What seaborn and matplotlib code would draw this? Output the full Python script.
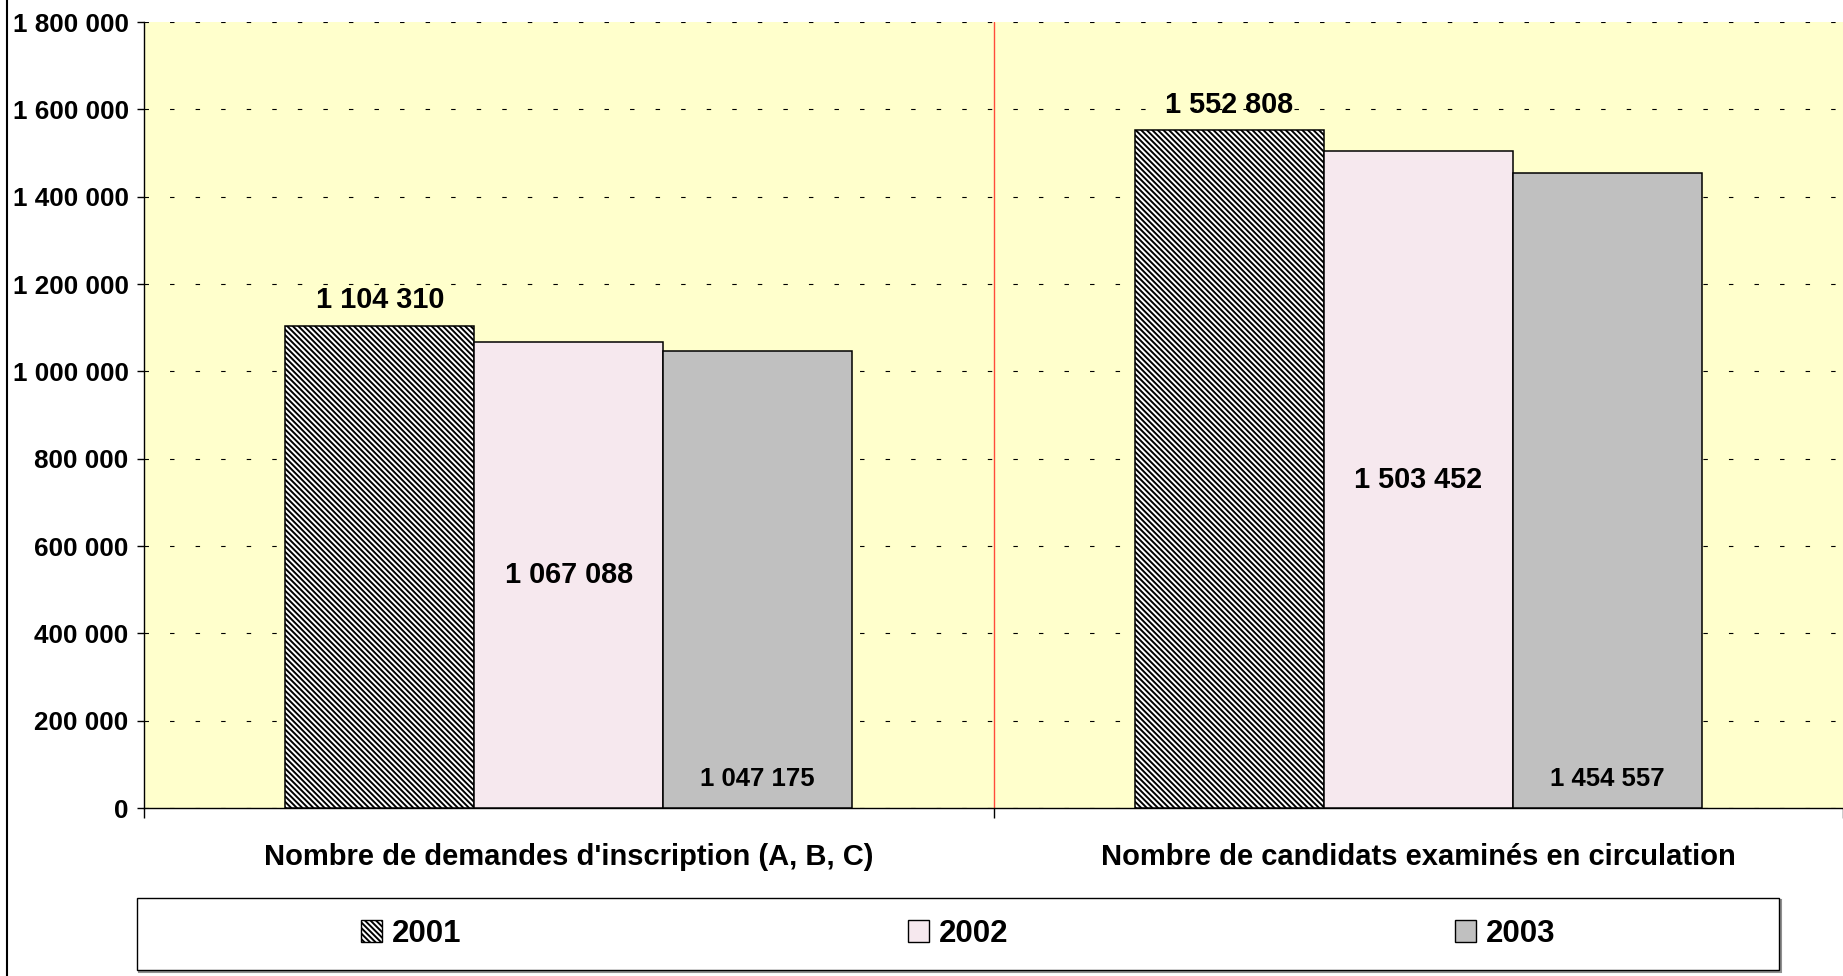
import numpy as np
import pandas as pd
import matplotlib.pyplot as plt
from matplotlib.patches import Rectangle, Patch
from matplotlib.lines import Line2D
import seaborn as sns

# -------------------------------
# Data
# -------------------------------
categories = ["Nombre de demandes d'inscription (A, B, C)",
              "Nombre de candidats examinés en circulation"]
years = ["2001", "2002", "2003"]
values_2001 = [1104310, 1552808]
values_2002 = [1067088, 1503452]
values_2003 = [1047175, 1454557]
y_ticks = [0, 200000, 400000, 600000, 800000, 1000000, 1200000, 1400000, 1600000, 1800000]

df = pd.DataFrame({
    'categorie': categories * 3,
    'annee': np.repeat(years, len(categories)),
    'valeur': values_2001 + values_2002 + values_2003,
})


def fmt(v):
    return f"{v:,.0f}".replace(",", " ")


# -------------------------------
# Style
# -------------------------------
sns.set_style("ticks")
plt.rcParams['font.family'] = ['Liberation Sans', 'DejaVu Sans']
plt.rcParams['font.weight'] = 'bold'
plt.rcParams['text.color'] = 'black'
plt.rcParams['xtick.color'] = 'black'
plt.rcParams['ytick.color'] = 'black'
plt.rcParams['hatch.linewidth'] = 1.4

colors = {'2001': 'white', '2002': '#f6e8ee', '2003': '#c0c0c0'}
hatches = {'2001': '\\\\\\\\\\\\', '2002': '', '2003': ''}

W, H = 1843, 976
fig = plt.figure(figsize=(W / 100, H / 100), dpi=100)
ax = fig.add_axes([144 / W, 1 - 808 / H, (W - 144) / W, (808 - 22) / H])

sns.barplot(data=df, x='categorie', y='valeur', hue='annee', hue_order=years,
            palette=colors, width=0.667, saturation=1, legend=False, ax=ax, zorder=3)

for container, year in zip(ax.containers, years):
    for bar in container:
        bar.set_edgecolor('black')
        bar.set_linewidth(1.1)
        bar.set_hatch(hatches[year])

# value labels
for bar, v in zip(ax.containers[0], values_2001):
    ax.text(bar.get_x() + bar.get_width() / 2, v + 58000, fmt(v),
            ha='center', va='center', fontsize=20.8, fontweight='bold', zorder=5)
for bar, v in zip(ax.containers[1], values_2002):
    ax.text(bar.get_x() + bar.get_width() / 2, v / 2, fmt(v),
            ha='center', va='center', fontsize=20.8, fontweight='bold', zorder=5)
for bar, v in zip(ax.containers[2], values_2003):
    ax.text(bar.get_x() + bar.get_width() / 2, 66000, fmt(v),
            ha='center', va='center', fontsize=18.5, fontweight='bold', zorder=5)

# axes
ax.set_facecolor('#ffffcc')
ax.set_xlim(-0.5, 1.5)
ax.set_ylim(0, 1800000)
ax.set_yticks(y_ticks)
ax.set_yticklabels([fmt(v) for v in y_ticks], fontsize=18.8, fontweight='bold')
ax.yaxis.grid(True, color='black', linestyle=(0, (4, 19)), linewidth=0.8)
ax.set_axisbelow(True)
ax.axvline(0.5, color='#ff4b3a', lw=1, zorder=2)

ax.set_xticks([-0.5, 0.5, 1.5])
ax.set_xticklabels(['', '', ''])
ax.set_xticks([0, 1], minor=True)
ax.set_xticklabels(categories, minor=True, fontsize=21, fontweight='bold')
ax.tick_params(axis='x', which='major', length=7, width=1, color='black', direction='out')
ax.tick_params(axis='x', which='minor', length=0, pad=25.5)
ax.tick_params(axis='y', length=5, width=1, color='black', pad=6, direction='out')
ax.set_xlabel('')
ax.set_ylabel('')

sns.despine(ax=ax, top=True, right=True)
for s in ['left', 'bottom']:
    ax.spines[s].set_color('black')
    ax.spines[s].set_linewidth(1)

# figure left border
fig.add_artist(Line2D([7 / W, 7 / W], [0, 1], color='black', lw=1.5, transform=fig.transFigure))

# legend box
fig.add_artist(Rectangle((139 / W, 1 - 972 / H), (1779 - 137) / W, 72 / H,
                         transform=fig.transFigure, fill=False, edgecolor='#909090', lw=1.5))
fig.add_artist(Rectangle((137 / W, 1 - 970 / H), (1779 - 137) / W, 72 / H,
                         transform=fig.transFigure, facecolor='white', edgecolor='black', lw=1))

handles = [Patch(facecolor=colors[y], edgecolor='black', hatch=hatches[y], label=y) for y in years]
fig.legend(handles=handles, loc='center', bbox_to_anchor=(958 / W, 1 - 934 / H), ncol=3,
           frameon=False, prop={'size': 22.5, 'weight': 'bold'},
           handlelength=0.68, handleheight=0.68, handletextpad=0.3, columnspacing=14.3)

fig.savefig('out.png', dpi=100)
